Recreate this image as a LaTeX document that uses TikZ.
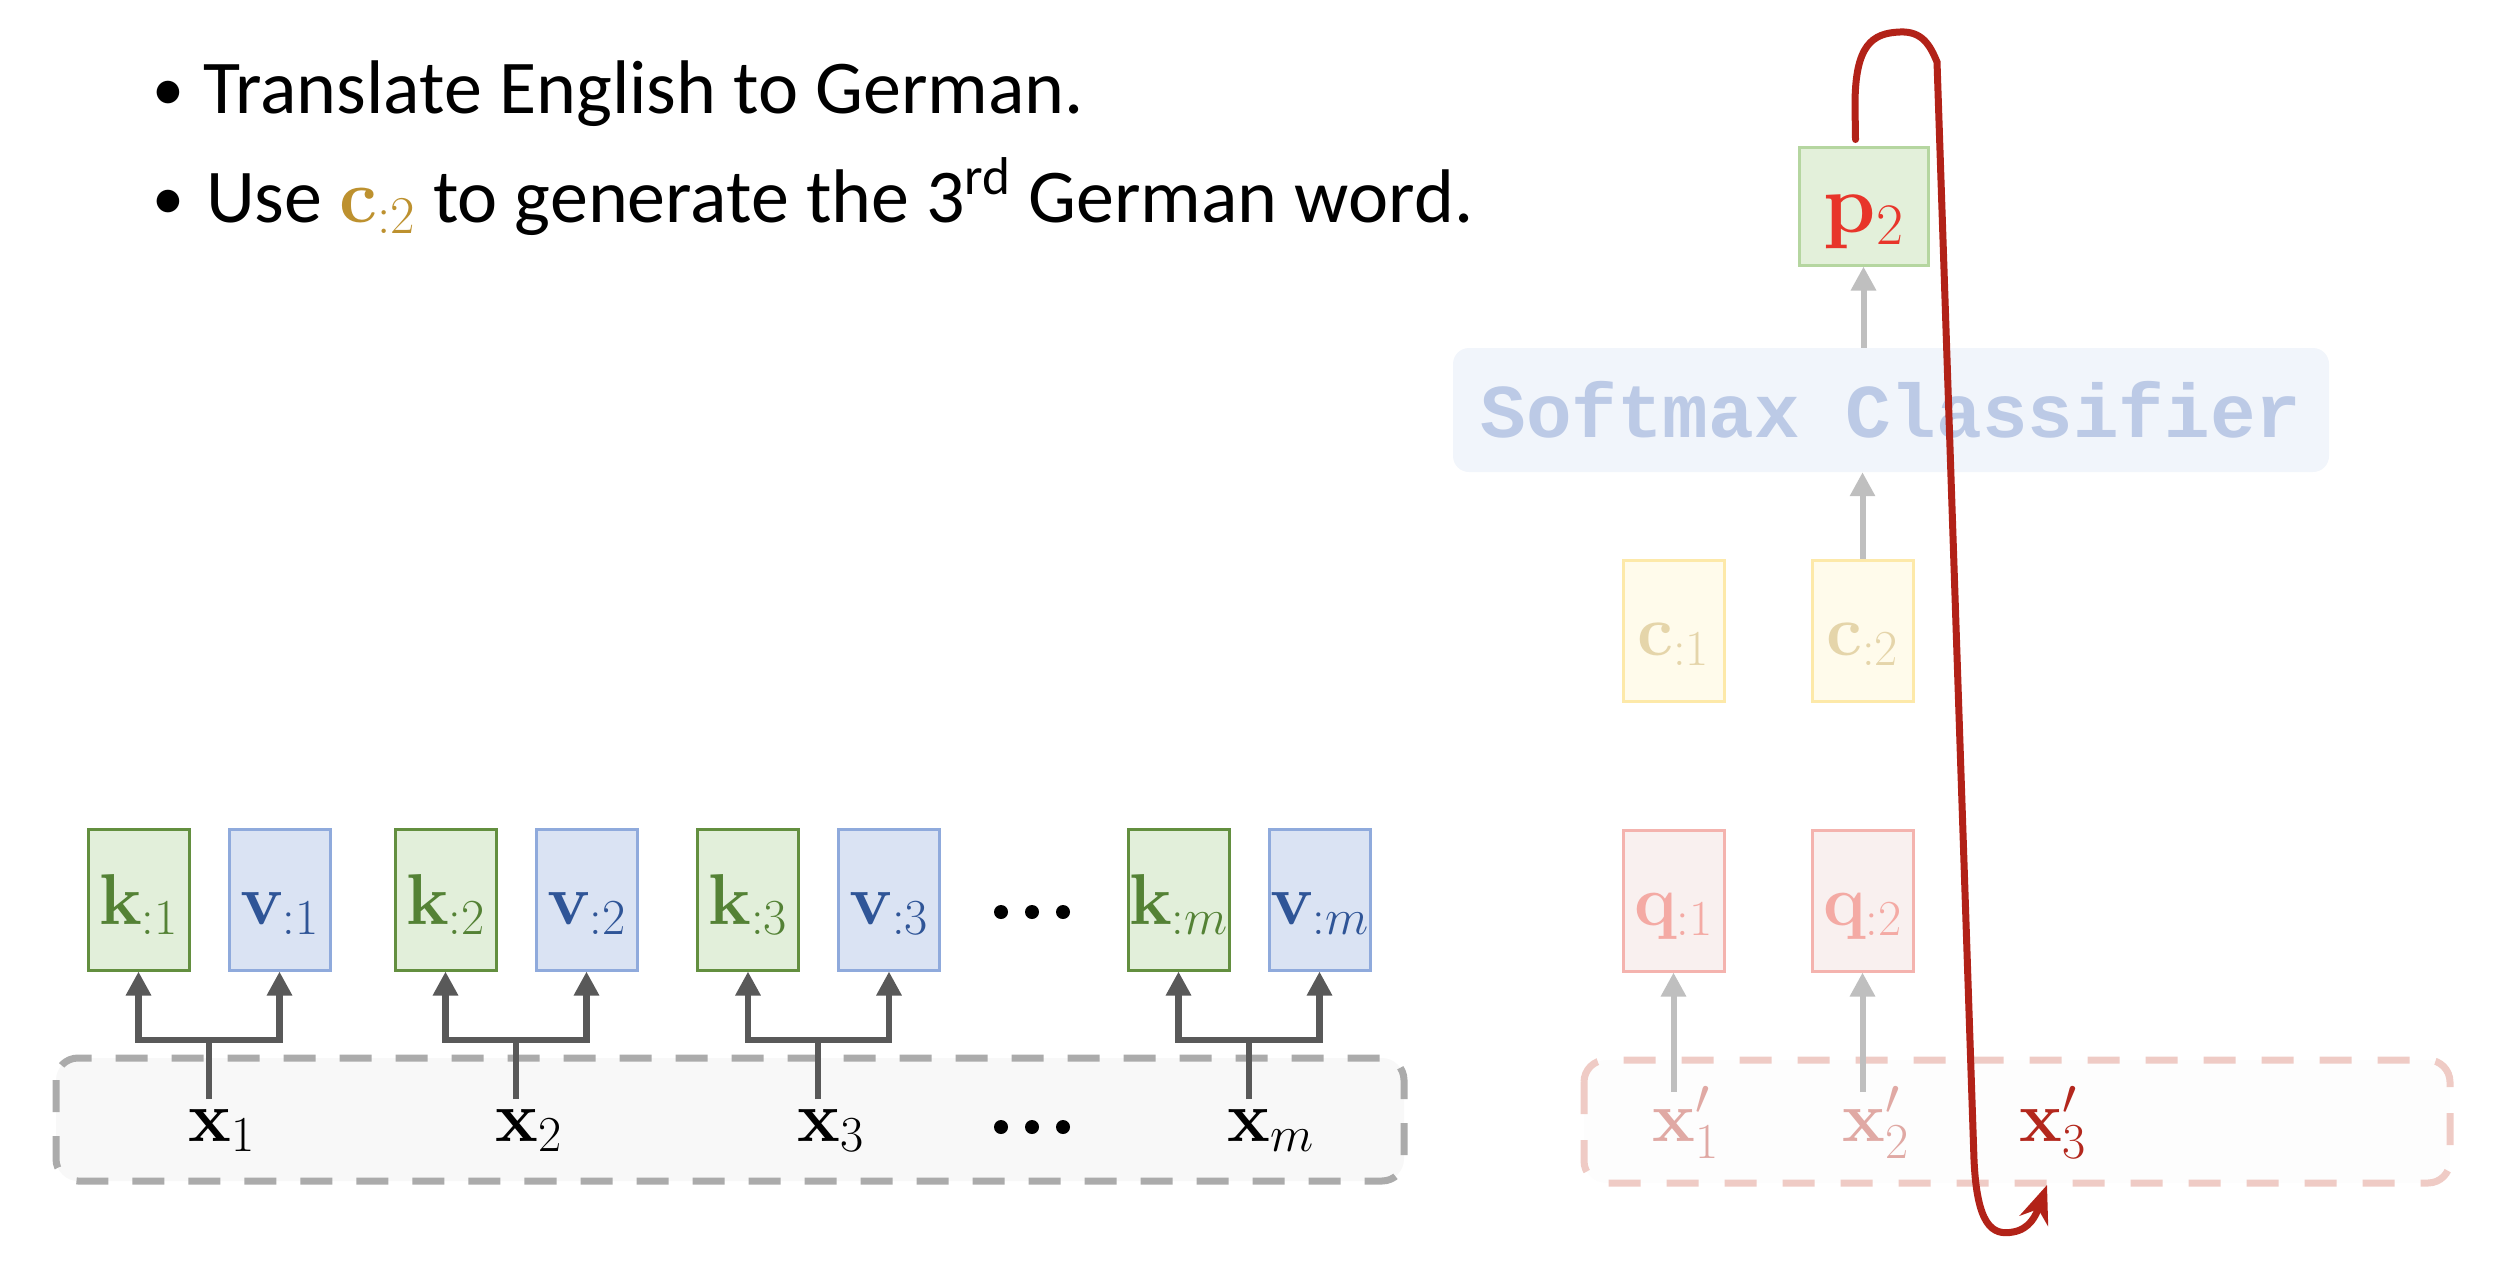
\RequirePackage{fix-cm}
\documentclass[tikz,border=0pt]{standalone}
\usepackage[no-math]{fontspec}
\setmainfont{Carlito}
\setmonofont{Liberation Mono}
\usetikzlibrary{arrows.meta,calc}
\definecolor{kgreen}{HTML}{548235}
\definecolor{kfill}{HTML}{E2EFDA}
\definecolor{kborder}{HTML}{638F3F}
\definecolor{vblue}{HTML}{2F5597}
\definecolor{vfill}{HTML}{DAE3F3}
\definecolor{vborder}{HTML}{8FAADC}
\definecolor{darkgray}{HTML}{595959}
\definecolor{lightgray}{HTML}{BFBFBF}
\definecolor{srcdash}{HTML}{ABABAB}
\definecolor{srcfill}{HTML}{F8F8F8}
\definecolor{tgtdash}{HTML}{EFCBC5}
\definecolor{tgtfill}{HTML}{FDFDFD}
\definecolor{cfill}{HTML}{FFFBEB}
\definecolor{cborder}{HTML}{FDE9A9}
\definecolor{ctext}{HTML}{E5D5AA}
\definecolor{qfill}{HTML}{F9F0EF}
\definecolor{qborder}{HTML}{F4B3AE}
\definecolor{qtext}{HTML}{F4AAA4}
\definecolor{xptext}{HTML}{E0A9A4}
\definecolor{xpdark}{HTML}{B3271D}
\definecolor{pfill}{HTML}{E3F0DA}
\definecolor{pborder}{HTML}{B5D6A0}
\definecolor{ptext}{HTML}{E8352A}
\definecolor{smfill}{HTML}{F1F5FB}
\definecolor{smtext}{HTML}{BCCAE6}
\definecolor{loopred}{HTML}{B22218}
\definecolor{gold}{HTML}{BD912F}
\begin{document}
\begin{tikzpicture}[x=1pt,y=-1pt,
  every node/.style={inner sep=0pt},
  mathfont/.style={font=\fontsize{72}{86}\selectfont},
  txt/.style={font=\fontsize{76}{90}\selectfont},
  cell/.style={mathfont,draw,line width=3pt,minimum width=101pt,minimum height=141pt,text height=49pt,text depth=0pt},
  kbox/.style={cell,fill=kfill,draw=kborder,text=kgreen},
  vbox/.style={cell,fill=vfill,draw=vborder,text=vblue},
  cbox/.style={cell,fill=cfill,draw=cborder,text=ctext},
  qbox/.style={cell,fill=qfill,draw=qborder,text=qtext},
  kvline/.style={draw=darkgray,line width=6.5pt},
  kvarrow/.style={kvline,-{Triangle[length=24pt,width=24pt]}},
  grayarrow/.style={draw=lightgray,line width=6pt,-{Triangle[length=24pt,width=24pt]}},
]
\useasboundingbox (0,0) rectangle (2508,1266);

% title text
\node[font=\fontsize{64}{80}\selectfont,anchor=base] (bul1) at (168,110) {•};
\node[txt,anchor=base west] (t1) at (203,113) {Translate English to German.};
\node[font=\fontsize{64}{80}\selectfont,anchor=base] (bul2) at (168,219) {•};
\node[txt,anchor=base west] (t2) at (206,222) {Use \textcolor{gold}{$\mathbf{c}_{:2}$} to generate the 3\textsuperscript{rd} German word.};

% frames
\draw[draw=srcdash,fill=srcfill,line width=7pt,dash pattern=on 32pt off 24pt,rounded corners=22pt] (56,1058) rectangle (1404,1181);
\draw[draw=tgtdash,fill=tgtfill,line width=7pt,dash pattern=on 32pt off 26pt,rounded corners=22pt] (1584,1060) rectangle (2450,1183);

% key / value boxes
\node[kbox] (k1) at (138.5,899.5) {$\mathbf{k}_{:1}$};
\node[vbox] (v1) at (279.5,899.5) {$\mathbf{v}_{:1}$};
\node[kbox] (k2) at (445.5,899.5) {$\mathbf{k}_{:2}$};
\node[vbox] (v2) at (586.5,899.5) {$\mathbf{v}_{:2}$};
\node[kbox] (k3) at (748,899.5) {$\mathbf{k}_{:3}$};
\node[vbox] (v3) at (889,899.5) {$\mathbf{v}_{:3}$};
\node[kbox] (km) at (1178.5,899.5) {$\mathbf{k}_{:m}$};
\node[vbox] (vm) at (1319.5,899.5) {$\mathbf{v}_{:m}$};

% dots
\foreach \xx in {1001,1032,1063}{
  \fill (\xx,912) circle (7pt);
  \fill (\xx,1127) circle (7pt);
}

% source tokens
\node[mathfont,anchor=base] (x1) at (222,1141) {$\mathbf{x}_1$};
\node[mathfont,anchor=base] (x2) at (529,1141) {$\mathbf{x}_2$};
\node[mathfont,anchor=base] (x3) at (831,1141) {$\mathbf{x}_3$};
\node[mathfont,anchor=base] (xm) at (1271,1141) {$\mathbf{x}_m$};

% key/value arrows
\foreach \i/\s in {1/209,2/516,3/818,m/1249}{
  \coordinate (s\i) at (\s,1099);
  \coordinate (b\i) at (\s,1040);
  \draw[kvline] (s\i) -- (b\i);
  \draw[kvarrow] (b\i) -| (k\i.south);
  \draw[kvarrow] (b\i) -| (v\i.south);
}

% target side
\node[qbox] (q1) at (1673.5,900.5) {$\mathbf{q}_{:1}$};
\node[qbox] (q2) at (1862.5,900.5) {$\mathbf{q}_{:2}$};
\node[cbox] (c1) at (1673.5,630.5) {$\mathbf{c}_{:1}$};
\node[cbox] (c2) at (1862.5,630.5) {$\mathbf{c}_{:2}$};

\node[mathfont,anchor=base,text=xptext] (xp1) at (1686,1141) {$\mathbf{x}'_1$};
\node[mathfont,anchor=base,text=xptext] (xp2) at (1876,1141) {$\mathbf{x}'_2$};
\node[mathfont,anchor=base,text=xpdark] (xp3) at (2053,1141) {$\mathbf{x}'_3$};

\coordinate (xs1) at (1673.5,1092);
\coordinate (xs2) at (1862.5,1092);
\draw[grayarrow] (xs1) -- (q1.south);
\draw[grayarrow] (xs2) -- (q2.south);

\node[fill=smfill,rounded corners=16pt,minimum width=876pt,minimum height=124pt,
      text=smtext,font=\fontsize{76}{90}\selectfont\ttfamily\bfseries] (sm) at (1891,410) {Softmax Classifier};

\node[font=\fontsize{84}{100}\selectfont,draw=pborder,fill=pfill,line width=3pt,minimum width=129pt,minimum height=118pt,text height=52pt,text depth=0pt,text=ptext] (p2) at (1863.5,206) {$\mathbf{p}_2$};

\draw[grayarrow] (c2.north) -- (c2.north |- sm.south);
\draw[grayarrow] (p2.south |- sm.north) -- (p2.south);

% feedback loop
\coordinate (loopend) at (2047,1185);
\draw[draw=loopred,line width=7pt,line cap=round,-{Stealth[length=38pt,width=30pt]}]
  ([xshift=-8pt,yshift=6pt]p2.north) -- (1855,105)
  .. controls (1855,45) and (1872,33) .. (1900,32)
  .. controls (1922,31) and (1930,45) .. (1937,62)
  -- (1974,1160)
  .. controls (1977,1225) and (1992,1236) .. (2013,1232)
  .. controls (2030,1229) and (2036,1215) .. (loopend);
\end{tikzpicture}
\end{document}
